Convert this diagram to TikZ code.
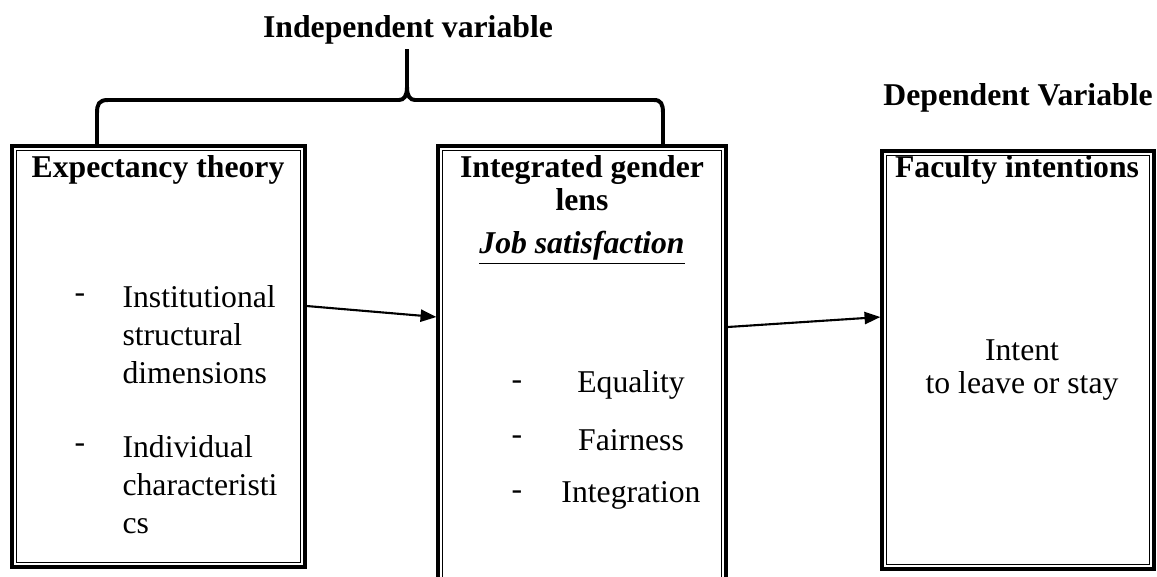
\documentclass[tikz,border=0pt]{standalone}
\usepackage{fontspec}
\setmainfont{Liberation Serif}
\usetikzlibrary{fit, arrows.meta}

\tikzset{
	box/.style={draw, line width=1.2pt, inner sep=0pt,
		path picture={\draw[line width=0.4pt]
			([shift={(1.6pt,-1.6pt)}]path picture bounding box.north west) rectangle
			([shift={(-1.6pt,1.6pt)}]path picture bounding box.south east);}},
	txt/.style={font=\fontsize{12}{14.4}\selectfont},
	head/.style={font=\fontsize{12}{14.4}\selectfont\bfseries},
	item/.style={txt, align=left, anchor=north west, inner sep=0pt},
	arrow/.style={line width=0.8pt, -{Triangle[length=6pt,width=4.6pt]}},
}

\begin{document}
\begin{tikzpicture}[x=0.3785pt, y=-0.3785pt, every node/.style={txt}]

\useasboundingbox (0,0) rectangle (1157,576);

%Boxes
\node[box, fit={(12,146) (305,567)}] (expect) {};
\node[box, fit={(438,146) (726,600)}] (gender) {};
\node[box, fit={(882,151) (1154,569)}] (faculty) {};

%Brace
\draw[line width=1.5pt] (97,144) -- (97,113) .. controls (97,104) and (99,100) .. (108,100)
	-- (399,100) .. controls (404,100) and (407,96) .. (407,87) -- (407,49);
\draw[line width=1.5pt] (407,87) .. controls (407,96) and (410,100) .. (415,100)
	-- (654,100) .. controls (661,100) and (663,104) .. (663,113) -- (663,144);

% Headings
\node[head] (indep) at (408,30) {Independent variable};
\node[head] (dep) at (1018,98) {Dependent Variable};

\node[head] (t1) at (158,170) {Expectancy theory};
\node[head, font=\fontsize{12}{12.5}\selectfont\bfseries, align=center] (t2) at (582,183) {Integrated gender\\lens};
\node[head] (t3) at (1017,170) {Faculty intentions};

% Items
\node (d1) at (80,298) {-};
\node[item] (inst) at (122,285) {Institutional\\structural\\dimensions};
\node (d2) at (80,448) {-};
\node[item] (indiv) at (122,435) {Individual\\characteristi\\cs};

\node[font=\fontsize{12}{14.4}\selectfont\bfseries\itshape] (job) at (582,248) {\underline{Job satisfaction}};
\foreach \y/\t/\nm in {385/Equality/eq, 440/Fairness/fair, 495/Integration/integ}
{
	\node at (517,\y) {-};
	\node (\nm) at (631,\y) {\t};
}

\node[font=\fontsize{12}{12.2}\selectfont, align=center] (intent) at (1022,370) {Intent\\to leave or stay};

% Arrows
\draw[arrow] (expect.east |- 0,306) -- (gender.west |- 0,317);
\draw[arrow] (gender.east |- 0,327) -- (faculty.west |- 0,317);

\end{tikzpicture}
\end{document}
